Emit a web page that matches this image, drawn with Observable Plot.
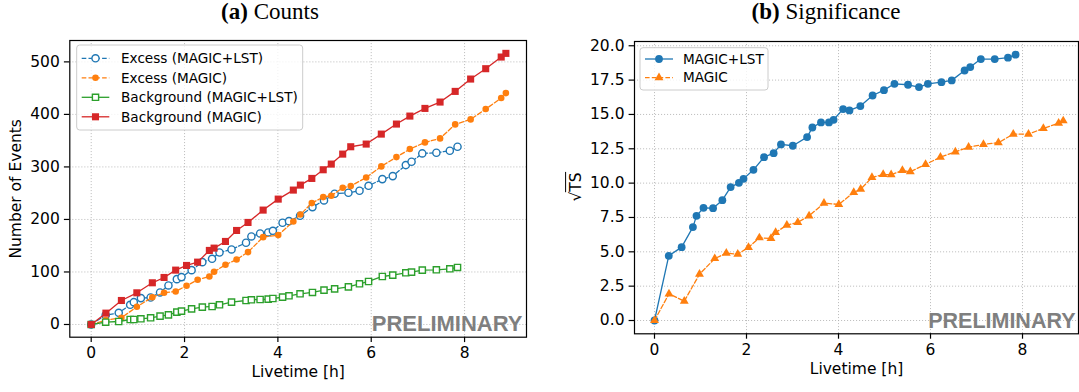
<!DOCTYPE html>
<html><head><meta charset="utf-8">
<script src="https://cdn.jsdelivr.net/npm/d3@7"></script>
<script src="https://cdn.jsdelivr.net/npm/@observablehq/plot@0.6"></script>
<style>
body{margin:0;background:#fff;}
#wrap{position:relative;width:1079px;height:392px;overflow:hidden;background:#fff;}
.panel{position:absolute;top:0;}
.title{position:absolute;top:0px;line-height:23px;font-family:"Liberation Serif","Times New Roman",serif;font-size:23px;color:#000;white-space:nowrap;text-align:center;}
#overlay{position:absolute;left:0;top:0;pointer-events:none;}
</style></head><body><div id="wrap"></div>
<script>
// ---------- data ----------
const timeML = [0, 0.31, 0.59, 0.835, 0.913, 1.065, 1.273, 1.475, 1.655, 1.835, 1.935, 2.151, 2.381, 2.59, 2.749, 3.007, 3.317, 3.432, 3.619, 3.792, 3.893, 4.1, 4.238, 4.475, 4.741, 4.988, 5.216, 5.511, 5.749, 5.943, 6.238, 6.461, 6.741, 6.864, 7.094, 7.396, 7.684, 7.849];
const excessML = [0, 17.8, 22.2, 37.5, 42.5, 50.2, 51.4, 61.0, 74.3, 86.3, 90.2, 103.5, 118.7, 125.1, 137.1, 142.9, 155.6, 167.6, 173.3, 175.2, 178.4, 193.7, 196.8, 207.0, 223.5, 236.2, 248.9, 250.8, 254.6, 264.1, 276.8, 282.5, 303.5, 309.8, 325.7, 327.0, 330.8, 338.4];
const bkgML = [0, 4.4, 5.7, 9.5, 9.5, 10.8, 12.7, 15.9, 18.4, 23.5, 25.4, 29.8, 33.0, 34.3, 37.5, 42.5, 45.7, 47.0, 47.6, 48.3, 49.5, 52.1, 54.6, 58.4, 61.0, 65.4, 67.9, 71.7, 77.5, 81.9, 91.4, 94.0, 98.4, 99.7, 103.5, 104.1, 106.0, 108.6];
const sigML = [0, 4.71, 5.34, 6.80, 7.62, 8.20, 8.18, 8.76, 9.71, 10.02, 10.31, 10.97, 11.89, 12.18, 12.82, 12.72, 13.35, 14.05, 14.42, 14.42, 14.61, 15.39, 15.29, 15.61, 16.38, 16.77, 17.23, 17.16, 16.99, 17.23, 17.35, 17.48, 18.2, 18.45, 19.03, 19.03, 19.13, 19.35];

const timeM = [0, 0.315, 0.647, 0.978, 1.31, 1.561, 1.81, 2.043, 2.28, 2.532, 2.633, 2.877, 3.115, 3.36, 3.684, 4.007, 4.331, 4.482, 4.727, 4.971, 5.144, 5.389, 5.561, 5.892, 6.216, 6.54, 6.828, 7.151, 7.475, 7.799, 8.13, 8.453, 8.785, 8.885];
const excessM = [0, 8.3, 12.7, 33.7, 52, 60.3, 62.9, 73.7, 85.1, 91.4, 100.3, 113.7, 123.8, 137.8, 166.3, 170.2, 196.2, 209.5, 231.1, 242.5, 245.1, 260.3, 263.5, 280.0, 301.0, 318.7, 334.0, 346.7, 354.3, 381.0, 390.5, 410.2, 431.1, 440.6];
const bkgM = [0, 21.6, 45.7, 60.3, 79.4, 89.5, 103.5, 112.4, 118.7, 141.0, 145.4, 158.1, 179.0, 194.3, 217.8, 238.7, 255.9, 265.4, 278.1, 294.6, 305.4, 324.4, 338.4, 343.5, 362.5, 381.6, 396.8, 411.4, 423.5, 443.8, 467.3, 487.0, 509.2, 516.2];
const sigM = [0, 1.94, 1.41, 3.37, 4.51, 4.90, 4.83, 5.32, 6.02, 5.97, 6.41, 6.94, 7.14, 7.62, 8.54, 8.45, 9.32, 9.56, 10.41, 10.63, 10.61, 10.92, 10.83, 11.36, 11.89, 12.28, 12.62, 12.82, 12.94, 13.57, 13.57, 13.98, 14.37, 14.54];

const xTicks = [0, 2, 4, 6, 8];
const yTicksCounts = [0, 100, 200, 300, 400, 500];
const yTicksSig = [0, 2.5, 5, 7.5, 10, 12.5, 15, 17.5, 20];

const countLabels = ["Excess (MAGIC+LST)", "Excess (MAGIC)", "Background (MAGIC+LST)", "Background (MAGIC)"];
const sigLabels = ["MAGIC+LST", "MAGIC"];

const C = {blue:"#1f77b4", orange:"#ff7f0e", green:"#2ca02c", red:"#d62728"};
const DASH = "4.6,2.2";
const FS = 15.5;

const rows = (xs, ys) => xs.map((x, i) => ({x, y: ys[i]}));

// ---------- series styles ----------
const countSeries = [
  {data: rows(timeML, excessML), color: C.blue, dash: DASH, symbol: "circle", r: 3.6, fill: "white", sw: 1.4},
  {data: rows(timeM, excessM), color: C.orange, dash: DASH, symbol: "circle", r: 3.3, fill: C.orange, sw: 0},
  {data: rows(timeML, bkgML), color: C.green, dash: null, symbol: "square", r: 3.5, fill: "white", sw: 1.4},
  {data: rows(timeM, bkgM), color: C.red, dash: null, symbol: "square", r: 4.0, fill: C.red, sw: 0}
];
const sigSeries = [
  {data: rows(timeML, sigML), color: C.blue, dash: null, symbol: "circle", r: 3.9, fill: C.blue, sw: 0},
  {data: rows(timeM, sigM), color: C.orange, dash: DASH, symbol: "triangle", r: 3.3, fill: C.orange, sw: 0}
];

function seriesMarks(list) {
  const out = [];
  for (const s of list) {
    out.push(Plot.line(s.data, {x: "x", y: "y", stroke: s.color, strokeWidth: 1.3, strokeDasharray: s.dash ?? undefined}));
    out.push(Plot.dot(s.data, {x: "x", y: "y", symbol: s.symbol, r: s.r, fill: s.fill, stroke: s.sw ? s.color : "none", strokeWidth: s.sw || undefined}));
  }
  return out;
}

const gridStyle = {stroke: "#b0b0b0", strokeOpacity: 1, strokeWidth: 0.8, strokeDasharray: "1.1,1.9"};
const baseStyle = {fontFamily: "'DejaVu Sans', sans-serif", fontSize: FS + "px", background: "transparent", overflow: "visible", color: "#000"};
const axisOpts = {tickSize: 5.4, tickPadding: 4.6, label: null, stroke: "#000", strokeWidth: 1.2, fontSize: FS, fontFamily: "'DejaVu Sans', sans-serif"};

const left = Plot.plot({
  width: 540, height: 392,
  marginLeft: 69.3, marginRight: 14, marginTop: 40, marginBottom: 55.3,
  style: baseStyle,
  x: {domain: [-0.4586, 9.327]},
  y: {domain: [-24.2, 540.7]},
  marks: [
    Plot.gridX(xTicks, gridStyle),
    Plot.gridY(yTicksCounts, gridStyle),
    Plot.axisX(xTicks, axisOpts),
    Plot.axisY(yTicksCounts, axisOpts),
    ...seriesMarks(countSeries),
    Plot.frame({stroke: "#000", strokeWidth: 1.2}),
    Plot.text(["Livetime [h]"], {frameAnchor: "bottom", dy: 40, fontSize: FS}),
    Plot.text(["Number of Events"], {frameAnchor: "left", textAnchor: "middle", rotate: -90, dx: -53.5, fontSize: FS}),
    Plot.text(["PRELIMINARY"], {frameAnchor: "bottom-right", textAnchor: "end", lineAnchor: "bottom", dx: -4, dy: -6.7,
      fontFamily: "'Liberation Sans', Arial, sans-serif", fontWeight: "bold", fontSize: 22, fill: "#7f7f7f"})
  ]
});

const right = Plot.plot({
  width: 539, height: 392,
  marginLeft: 94, marginRight: 1, marginTop: 41, marginBottom: 58.7,
  style: baseStyle,
  x: {domain: [-0.4348, 9.217]},
  y: {domain: [-0.968, 20.31]},
  marks: [
    Plot.gridX(xTicks, gridStyle),
    Plot.gridY(yTicksSig, gridStyle),
    Plot.axisX(xTicks, axisOpts),
    Plot.axisY(yTicksSig, {...axisOpts, tickFormat: d3.format(".1f")}),
    ...seriesMarks(sigSeries),
    Plot.frame({stroke: "#000", strokeWidth: 1.2}),
    Plot.text(["Livetime [h]"], {frameAnchor: "bottom", dy: 40, fontSize: FS}),
    Plot.text(["PRELIMINARY"], {frameAnchor: "bottom-right", textAnchor: "end", lineAnchor: "bottom", dx: -3, dy: -6.3,
      fontFamily: "'Liberation Sans', Arial, sans-serif", fontWeight: "bold", fontSize: 21.5, fill: "#7f7f7f"})
  ]
});

const wrap = document.getElementById("wrap");
left.classList.add("panel"); left.style.left = "0px";
right.classList.add("panel"); right.style.left = "540px";
wrap.appendChild(left);
wrap.appendChild(right);

// titles
const t1 = document.createElement("div");
t1.className = "title"; t1.style.left = "0px"; t1.style.width = "540px";
t1.innerHTML = "<b>(a)</b> Counts";
const t2 = document.createElement("div");
t2.className = "title"; t2.style.left = "626px"; t2.style.width = "400px";
t2.innerHTML = "<b>(b)</b> Significance";
wrap.appendChild(t1); wrap.appendChild(t2);

// overlay: legends and sqrt(TS) label
const ov = d3.select(wrap).append("svg").attr("id", "overlay").attr("width", 1079).attr("height", 392)
  .style("font-family", "'DejaVu Sans', sans-serif").style("font-size", "13.6px");

function legend(box, rowsY, x1, x2, tx, series, labels) {
  const g = ov.append("g");
  g.append("rect").attr("x", box[0]).attr("y", box[1]).attr("width", box[2] - box[0]).attr("height", box[3] - box[1])
    .attr("rx", 3).attr("fill", "white").attr("fill-opacity", 0.8).attr("stroke", "#cccccc").attr("stroke-width", 1);
  series.forEach((s, i) => {
    const y = rowsY[i];
    g.append("line").attr("x1", x1).attr("x2", x2).attr("y1", y).attr("y2", y)
      .attr("stroke", s.color).attr("stroke-width", 1.3).attr("stroke-dasharray", s.dash);
    const sym = s.symbol === "circle" ? d3.symbolCircle : s.symbol === "square" ? d3.symbolSquare : d3.symbolTriangle;
    g.append("path").attr("d", d3.symbol(sym, Math.PI * s.r * s.r)())
      .attr("transform", `translate(${(x1 + x2) / 2},${y})`)
      .attr("fill", s.fill).attr("stroke", s.sw ? s.color : "none").attr("stroke-width", s.sw || null);
    g.append("text").attr("x", tx).attr("y", y).attr("dy", "0.35em").attr("fill", "#000").text(labels[i]);
  });
}
legend([76.7, 45, 302.7, 130], [58.3, 77.8, 97.3, 116.8], 81.7, 109.3, 121, countSeries, countLabels);
legend([640, 47.7, 768, 90], [59, 77.7], 645, 673, 683, sigSeries, sigLabels);

// sqrt(TS) y label
const lg = ov.append("g").attr("transform", "translate(575,187) rotate(-90)").style("font-size", FS + "px");
const lt = lg.append("text").attr("text-anchor", "middle").attr("y", 5.5).attr("fill", "#000").text("\u221ATS");
const L = lt.node().getComputedTextLength();
const w0 = lt.node().getSubStringLength(0, 1);
lg.append("line").attr("x1", -L / 2 + w0 - 0.5).attr("x2", L / 2 + 0.5).attr("y1", -9.4).attr("y2", -9.4)
  .attr("stroke", "#000").attr("stroke-width", 1);
</script></body></html>
